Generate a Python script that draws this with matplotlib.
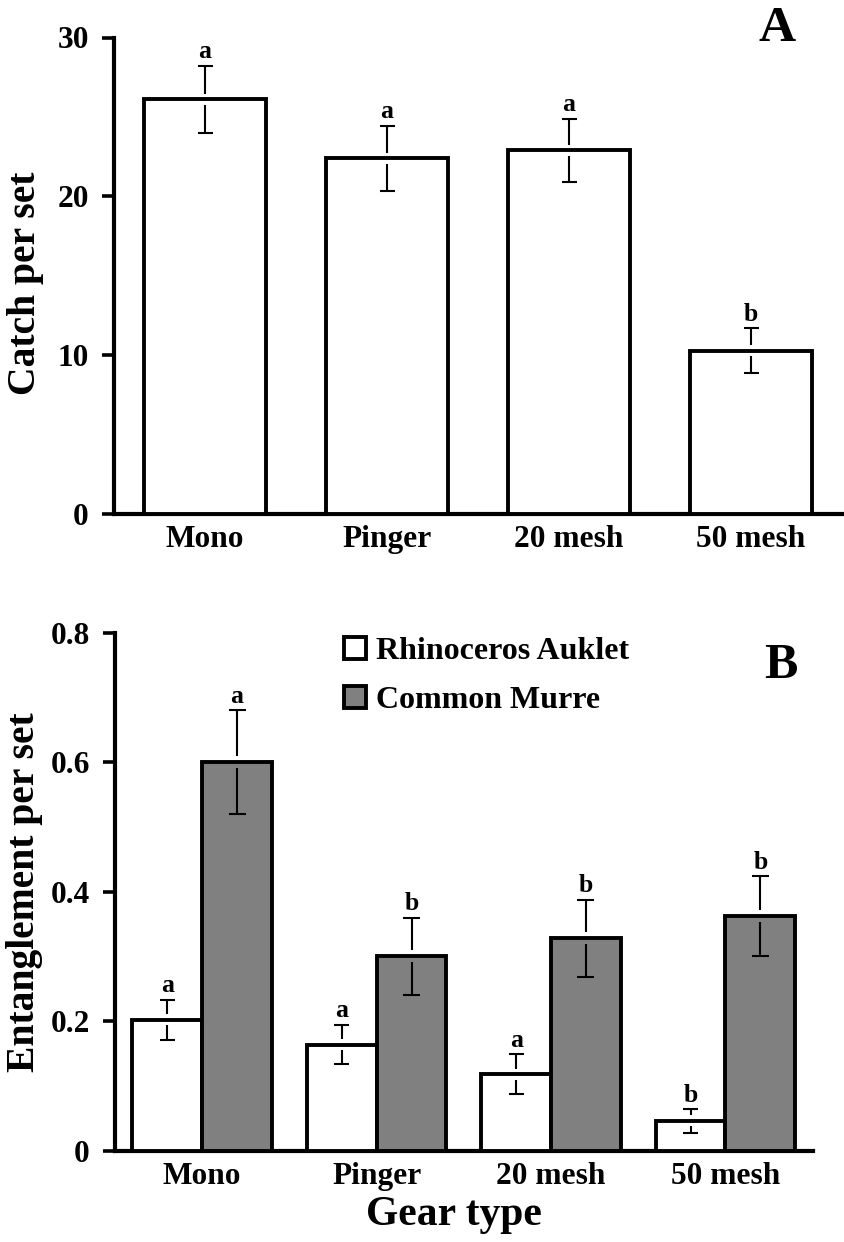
import numpy as np
import matplotlib
matplotlib.use('Agg')
import matplotlib.pyplot as plt
from matplotlib import transforms

# ---------------- data ----------------
categories = ['Mono', 'Pinger', '20 mesh', '50 mesh']

catch_mean = [26.1, 22.4, 22.9, 10.3]
catch_se = [2.1, 2.05, 2.0, 1.4]
catch_letters = ['a', 'a', 'a', 'b']

auklet_mean = [0.202, 0.164, 0.118, 0.046]
auklet_se = [0.031, 0.030, 0.031, 0.018]
auklet_letters = ['a', 'a', 'a', 'b']

murre_mean = [0.600, 0.300, 0.328, 0.362]
murre_se = [0.080, 0.060, 0.060, 0.062]
murre_letters = ['a', 'b', 'b', 'b']

yticks_A = [0, 10, 20, 30]
yticklabels_A = ['0', '10', '20', '30']
yticks_B = [0, 0.2, 0.4, 0.6, 0.8]
yticklabels_B = ['0', '0.2', '0.4', '0.6', '0.8']
series_names = ['Rhinoceros Auklet', 'Common Murre']

# ---------------- style ----------------
plt.rcParams['font.family'] = ['Liberation Serif', 'DejaVu Serif']
plt.rcParams['font.weight'] = 'bold'

W, H = 844, 1242
fig = plt.figure(figsize=(W / 100, H / 100), dpi=100)

axA = fig.add_axes([114 / W, 1 - 514.3 / H, 728 / W, 476.8 / H])
axB = fig.add_axes([115 / W, 1 - 1150.7 / H, 697.7 / W, 517.9 / H])

GRAY = '#808080'
EDGE_LW = 2.8
ERR_LW = 1.5
TICK_FS = 22.6


def gapped_errorbar(ax, xs, ys, es, cap_px, gap_px):
    bbox = ax.get_position()
    w_px = bbox.width * W
    h_px = bbox.height * H
    x0, x1 = ax.get_xlim()
    y0, y1 = ax.get_ylim()
    cx = cap_px * (x1 - x0) / w_px
    gy = gap_px * (y1 - y0) / h_px
    for xi, yi, ei in zip(xs, ys, es):
        ax.vlines(xi, yi + gy, yi + ei, color='black', lw=ERR_LW, zorder=4)
        ax.vlines(xi, yi - ei, yi - gy, color='black', lw=ERR_LW, zorder=4)
        ax.hlines([yi + ei, yi - ei], xi - cx, xi + cx, color='black',
                  lw=ERR_LW, zorder=4)


def letters(ax, xs, ys, es, labs):
    for xi, yi, ei, lab in zip(xs, ys, es, labs):
        ax.annotate(lab, (xi, yi + ei), xytext=(0, 5.5),
                    textcoords='offset points', ha='center', va='baseline',
                    fontsize=18.5, fontweight='bold')


def style_axes(ax):
    ax.spines[['top', 'right']].set_visible(False)
    ax.spines[['left', 'bottom']].set_linewidth(3)
    ax.tick_params(axis='y', direction='out', length=8.6, width=2.6,
                   pad=9.5, labelsize=TICK_FS)
    ax.tick_params(axis='x', length=0, pad=8, labelsize=TICK_FS)
    for lab in ax.get_xticklabels() + ax.get_yticklabels():
        lab.set_fontweight('bold')


x = np.arange(len(categories))

# ---------------- Panel A ----------------
axA.set_xlim(-0.5, 3.5)
axA.set_ylim(0, 30)
axA.bar(x, catch_mean, width=0.67, color='white', edgecolor='black',
        linewidth=EDGE_LW, zorder=3)
gapped_errorbar(axA, x, catch_mean, catch_se, cap_px=7.5, gap_px=5.5)
letters(axA, x, catch_mean, catch_se, catch_letters)
axA.set_xticks(x)
axA.set_xticklabels(categories)
axA.set_yticks(yticks_A)
axA.set_yticklabels(yticklabels_A)
style_axes(axA)
axA.set_ylabel('Catch per set', fontsize=28.5, fontweight='bold')
axA.yaxis.set_label_coords(
    44 / W, 0.484,
    transform=transforms.blended_transform_factory(fig.transFigure, axA.transAxes))
axA.text(0.911, 0.993, 'A', transform=axA.transAxes, ha='center',
         va='baseline', fontsize=37, fontweight='bold')

# ---------------- Panel B ----------------
axB.set_xlim(-0.5, 3.5)
axB.set_ylim(0, 0.8)
bw = 0.4
bars_ra = axB.bar(x - bw / 2, auklet_mean, width=bw, color='white',
                  edgecolor='black', linewidth=EDGE_LW, zorder=3,
                  label=series_names[0])
bars_cm = axB.bar(x + bw / 2, murre_mean, width=bw, color=GRAY,
                  edgecolor='black', linewidth=EDGE_LW, zorder=3,
                  label=series_names[1])
gapped_errorbar(axB, x - bw / 2, auklet_mean, auklet_se, cap_px=7.5, gap_px=5.5)
gapped_errorbar(axB, x + bw / 2, murre_mean, murre_se, cap_px=8.5, gap_px=6)
letters(axB, x - bw / 2, auklet_mean, auklet_se, auklet_letters)
letters(axB, x + bw / 2, murre_mean, murre_se, murre_letters)
axB.set_xticks(x)
axB.set_xticklabels(categories)
axB.set_yticks(yticks_B)
axB.set_yticklabels(yticklabels_B)
style_axes(axB)
axB.set_ylabel('Entanglement per set', fontsize=28.5, fontweight='bold')
axB.yaxis.set_label_coords(
    43 / W, 0.5,
    transform=transforms.blended_transform_factory(fig.transFigure, axB.transAxes))
axB.set_xlabel('Gear type', fontsize=30, fontweight='bold')
axB.xaxis.set_label_coords(454 / W, 1 - 1196 / H, transform=fig.transFigure)
axB.text(0.9546, 0.9127, 'B', transform=axB.transAxes, ha='center',
         va='baseline', fontsize=36, fontweight='bold')

axB.legend([bars_ra, bars_cm], series_names, loc='upper left',
           bbox_to_anchor=(0.328, 0.992), frameon=False, borderpad=0,
           borderaxespad=0, handlelength=0.7, handleheight=0.7,
           handletextpad=0.32, labelspacing=0.62,
           prop={'size': 23, 'weight': 'bold'})

fig.savefig('out.png', dpi=100)
